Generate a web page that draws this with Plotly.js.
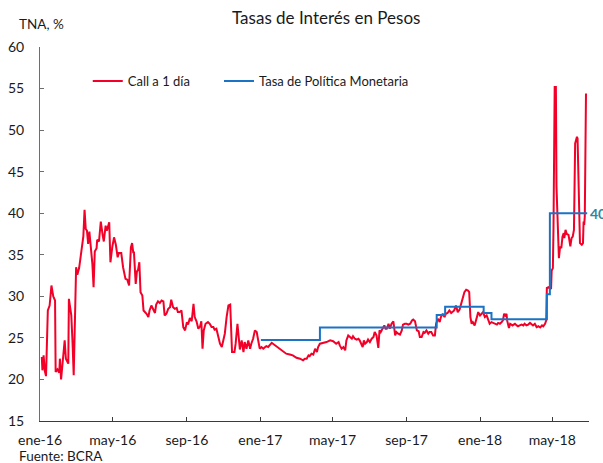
<!DOCTYPE html>
<html>
<head>
<meta charset="utf-8">
<script src="https://cdn.plot.ly/plotly-3.0.1.min.js"></script>
<style>html,body{margin:0;padding:0;background:#fff;}#chart{width:603px;height:463px;}</style>
</head>
<body>
<div id="chart"></div>
<script>
// Call a 1 día (TNA, %)
var callDates = [
"2016-01-04","2016-01-05","2016-01-07","2016-01-09","2016-01-11","2016-01-14","2016-01-17","2016-01-20","2016-01-23","2016-01-26",
"2016-01-27","2016-01-30","2016-02-02","2016-02-03","2016-02-05","2016-02-08","2016-02-11","2016-02-13","2016-02-17","2016-02-18",
"2016-02-22","2016-02-24","2016-02-26","2016-03-01","2016-03-03","2016-03-06","2016-03-09","2016-03-13","2016-03-15","2016-03-17",
"2016-03-19","2016-03-21","2016-03-23","2016-03-25","2016-03-28","2016-03-30","2016-04-01","2016-04-04","2016-04-05","2016-04-08",
"2016-04-11","2016-04-14","2016-04-16","2016-04-19","2016-04-21","2016-04-25","2016-04-27","2016-04-30","2016-05-03","2016-05-06",
"2016-05-09","2016-05-11","2016-05-15","2016-05-18","2016-05-22","2016-05-25","2016-05-28","2016-05-31","2016-06-02","2016-06-04",
"2016-06-05","2016-06-08","2016-06-10","2016-06-12","2016-06-14","2016-06-16","2016-06-19","2016-06-21","2016-06-26","2016-06-29",
"2016-07-01","2016-07-04","2016-07-07","2016-07-10","2016-07-12","2016-07-15","2016-07-18","2016-07-21","2016-07-24","2016-07-26",
"2016-07-29","2016-08-01","2016-08-04","2016-08-06","2016-08-09","2016-08-12","2016-08-15","2016-08-17","2016-08-20","2016-08-23",
"2016-08-26","2016-08-29","2016-09-01","2016-09-03","2016-09-06","2016-09-09","2016-09-12","2016-09-14","2016-09-17","2016-09-20",
"2016-09-23","2016-09-25","2016-09-27","2016-09-29","2016-10-02","2016-10-06","2016-10-09","2016-10-12","2016-10-15","2016-10-17",
"2016-10-20","2016-10-23","2016-10-26","2016-10-29","2016-11-01","2016-11-03","2016-11-06","2016-11-09","2016-11-12","2016-11-13",
"2016-11-15","2016-11-19","2016-11-21","2016-11-24","2016-11-26","2016-11-28","2016-12-01","2016-12-04","2016-12-06","2016-12-09",
"2016-12-12","2016-12-15","2016-12-17","2016-12-20","2016-12-23","2016-12-26","2016-12-28","2016-12-31","2017-01-03","2017-01-06",
"2017-01-09","2017-01-11","2017-01-14","2017-01-17","2017-01-20","2017-01-22","2017-01-28","2017-02-02","2017-02-08","2017-02-13",
"2017-02-19","2017-02-24","2017-03-02","2017-03-08","2017-03-13","2017-03-16","2017-03-19","2017-03-22","2017-03-24","2017-03-27",
"2017-03-30","2017-04-02","2017-04-05","2017-04-07","2017-04-10","2017-04-16","2017-04-21","2017-04-27","2017-05-02","2017-05-07",
"2017-05-11","2017-05-13","2017-05-16","2017-05-19","2017-05-22","2017-05-24","2017-05-27","2017-05-30","2017-06-02","2017-06-04",
"2017-06-07","2017-06-10","2017-06-13","2017-06-15","2017-06-18","2017-06-20","2017-06-22","2017-06-24","2017-06-27","2017-06-29",
"2017-07-02","2017-07-05","2017-07-08","2017-07-10","2017-07-13","2017-07-16","2017-07-18","2017-07-20","2017-07-23","2017-07-26",
"2017-07-28","2017-07-30","2017-08-02","2017-08-04","2017-08-07","2017-08-10","2017-08-13","2017-08-15","2017-08-18","2017-08-21",
"2017-08-24","2017-08-26","2017-08-29","2017-09-01","2017-09-04","2017-09-07","2017-09-10","2017-09-12","2017-09-15","2017-09-18",
"2017-09-21","2017-09-23","2017-09-26","2017-09-29","2017-10-01","2017-10-04","2017-10-07","2017-10-09","2017-10-12","2017-10-15",
"2017-10-18","2017-10-20","2017-10-23","2017-10-26","2017-10-28","2017-10-31","2017-11-03","2017-11-05","2017-11-08","2017-11-11",
"2017-11-14","2017-11-16","2017-11-19","2017-11-22","2017-11-25","2017-11-28","2017-12-01","2017-12-03","2017-12-06","2017-12-09",
"2017-12-12","2017-12-14","2017-12-16","2017-12-18","2017-12-20","2017-12-23","2017-12-26","2017-12-29","2018-01-01","2018-01-04",
"2018-01-06","2018-01-09","2018-01-12","2018-01-15","2018-01-17","2018-01-20","2018-01-23","2018-01-26","2018-01-29","2018-01-31",
"2018-02-03","2018-02-06","2018-02-08","2018-02-10","2018-02-12","2018-02-14","2018-02-15","2018-02-18","2018-02-20","2018-02-24",
"2018-02-28","2018-03-03","2018-03-05","2018-03-08","2018-03-11","2018-03-14","2018-03-16","2018-03-19","2018-03-22","2018-03-25",
"2018-03-27","2018-03-30","2018-04-02","2018-04-05","2018-04-08","2018-04-11","2018-04-14","2018-04-16","2018-04-19","2018-04-21",
"2018-04-22","2018-04-25","2018-04-29","2018-04-30","2018-05-02","2018-05-03","2018-05-05","2018-05-07","2018-05-08","2018-05-10",
"2018-05-12","2018-05-14","2018-05-16","2018-05-18","2018-05-20","2018-05-21","2018-05-23","2018-05-25","2018-05-28","2018-05-31",
"2018-06-02","2018-06-04","2018-06-06","2018-06-08","2018-06-11","2018-06-12","2018-06-14","2018-06-16","2018-06-19","2018-06-21",
"2018-06-22","2018-06-23","2018-06-24","2018-06-26"
];
var callValues = [
22.7,21.1,22.9,21.0,20.4,28.3,28.9,31.3,30.0,29.5,
20.9,21.2,20.8,22.5,20.0,22.0,24.7,22.5,21.9,29.7,
27.7,24.5,20.5,33.5,32.6,33.4,35.2,37.2,40.4,38.1,
37.9,36.3,37.8,36.1,33.9,31.1,35.4,35.8,36.8,36.6,
39.0,37.4,36.6,38.5,37.9,38.9,34.1,35.9,37.1,36.2,
34.7,35.2,35.2,33.5,32.1,32.0,31.3,35.9,36.4,35.2,
35.4,31.5,33.0,33.2,34.1,30.5,30.1,28.3,27.9,27.5,
28.3,28.9,28.4,28.0,29.0,29.4,29.2,29.5,29.4,27.7,
27.9,28.5,28.7,29.6,28.7,28.5,28.6,28.1,28.1,28.3,
26.3,25.9,26.9,26.6,27.4,27.0,29.1,27.5,27.0,26.1,
26.4,27.0,23.7,25.9,26.7,26.9,26.7,26.3,26.3,26.0,
26.1,25.3,24.3,23.9,25.1,25.5,27.5,28.9,29.0,27.5,
23.3,23.3,24.3,26.7,25.3,23.6,24.7,23.3,24.5,23.7,
24.7,23.7,24.3,24.9,25.9,25.7,24.9,23.7,23.9,23.7,
23.9,24.0,23.9,24.1,24.4,24.3,24.0,23.7,23.4,23.1,
23.0,22.9,22.6,22.5,22.3,22.5,22.5,22.9,22.8,23.1,
23.0,23.7,23.3,23.9,24.3,24.4,24.5,24.7,24.6,24.3,
24.5,24.1,23.7,23.9,23.5,24.7,25.3,25.1,24.9,25.2,
24.9,24.8,24.9,24.7,24.3,23.9,24.7,24.3,24.5,24.8,
24.5,24.9,25.1,25.7,25.3,23.8,25.9,25.7,26.1,26.5,
26.1,26.1,26.7,26.1,26.7,27.0,25.3,25.7,25.5,25.4,
25.9,26.6,26.7,26.7,26.6,26.7,27.1,27.2,27.0,25.9,
25.8,25.1,25.1,25.7,25.6,25.9,25.5,25.7,25.7,25.3,
25.3,26.7,27.3,26.9,27.5,27.9,27.5,27.9,28.0,28.3,
28.0,28.1,28.3,28.9,28.1,28.4,29.1,29.5,30.5,30.8,
30.7,30.5,27.5,26.7,26.9,26.5,27.3,28.1,27.7,27.9,
28.1,27.5,27.7,27.1,26.7,26.9,26.8,26.7,26.6,26.8,
26.7,26.9,27.1,27.9,27.7,27.9,27.1,26.2,26.7,26.5,
26.7,26.5,26.4,26.5,26.6,26.5,26.7,26.5,26.6,26.8,
26.7,26.5,26.7,26.3,26.4,26.25,26.5,26.4,26.7,27.1,
31.0,31.1,30.9,33.1,33.4,38.0,55.2,55.2,43.2,38.4,
34.6,36.0,35.8,37.2,37.6,37.0,38.0,37.5,37.4,36.0,
37.0,37.2,38.0,48.4,49.2,49.0,41.2,36.4,36.2,36.4,
39.0,38.6,39.6,54.4
];
// Tasa de Política Monetaria (step changes)
var tpmDates = ["2017-01-02","2017-04-10","2017-10-21","2017-11-04","2018-01-07","2018-01-20","2018-04-22","2018-04-27","2018-06-28"];
var tpmValues = [24.75,26.25,27.75,28.75,28.0,27.25,30.25,40.0,40.0];

var tickVals = ["2016-01-01","2016-05-01","2016-09-01","2017-01-01","2017-05-01","2017-09-01","2018-01-01","2018-05-01"];
var tickText = ["ene-16","may-16","sep-16","ene-17","may-17","sep-17","ene-18","may-18"];
var yTicks = [15,20,25,30,35,40,45,50,55,60];

var FONT = "Lato, 'Open Sans', sans-serif";

var traces = [
  {x: callDates, y: callValues, type: "scatter", mode: "lines", name: "Call a 1 día",
   line: {color: "#f20028", width: 2}, legend: "legend"},
  {x: tpmDates, y: tpmValues, type: "scatter", mode: "lines", name: "Tasa de Política Monetaria",
   line: {color: "#1a73c4", width: 2, shape: "hv"}, legend: "legend2"}
];

var legendFont = {family: FONT, size: 13, color: "#1a1a1a"};

var layout = {
  width: 603, height: 463,
  margin: {l: 40, r: 14, t: 47, b: 42},
  paper_bgcolor: "#ffffff", plot_bgcolor: "#ffffff",
  font: {family: FONT, size: 14, color: "#1a1a1a"},
  title: {text: "Tasas de Interés en Pesos", font: {family: FONT, size: 17, color: "#1a1a1a"},
          x: 0.541, xanchor: "center", y: 0.961, yanchor: "middle"},
  showlegend: true,
  legend: {orientation: "h", x: 0.087, xanchor: "left", y: 0.909, yanchor: "middle",
           font: legendFont, bgcolor: "rgba(0,0,0,0)", itemwidth: 30},
  legend2: {orientation: "h", x: 0.326, xanchor: "left", y: 0.909, yanchor: "middle",
           font: legendFont, bgcolor: "rgba(0,0,0,0)", itemwidth: 30},
  xaxis: {type: "date", range: ["2016-01-01", "2018-07-01"], tickmode: "array",
          tickvals: tickVals, ticktext: tickText, showgrid: false, zeroline: false,
          showline: true, linecolor: "#3a3a3a", linewidth: 1, ticks: "inside", ticklen: 4,
          tickcolor: "#3a3a3a", ticklabelstandoff: 6, tickfont: {family: FONT, size: 14, color: "#1a1a1a"},
          fixedrange: true},
  yaxis: {range: [15, 60], tickmode: "array", tickvals: yTicks, showgrid: false, zeroline: false,
          showline: true, linecolor: "#6e6e6e", linewidth: 1, ticks: "inside", ticklen: 4,
          tickcolor: "#6e6e6e", ticklabelstandoff: 12, tickfont: {family: FONT, size: 14, color: "#1a1a1a"},
          fixedrange: true},
  annotations: [
    {xref: "paper", yref: "paper", x: -0.042, y: 1.0615, xanchor: "left", yanchor: "middle",
     text: "TNA, %", showarrow: false, font: {family: FONT, size: 13.5, color: "#1a1a1a"}},
    {xref: "paper", yref: "paper", x: -0.042, y: -0.093, xanchor: "left", yanchor: "middle",
     text: "Fuente: BCRA", showarrow: false, font: {family: FONT, size: 13.5, color: "#1a1a1a"}},
    {xref: "x", yref: "y", x: tpmDates[tpmDates.length - 1], y: tpmValues[tpmValues.length - 1],
     xanchor: "left", yanchor: "middle", xshift: 1, text: "<b>40</b>", showarrow: false,
     font: {family: FONT, size: 14, color: "#31859c"}}
  ]
};

Plotly.newPlot("chart", traces, layout, {displayModeBar: false, staticPlot: true});
</script>
</body>
</html>
